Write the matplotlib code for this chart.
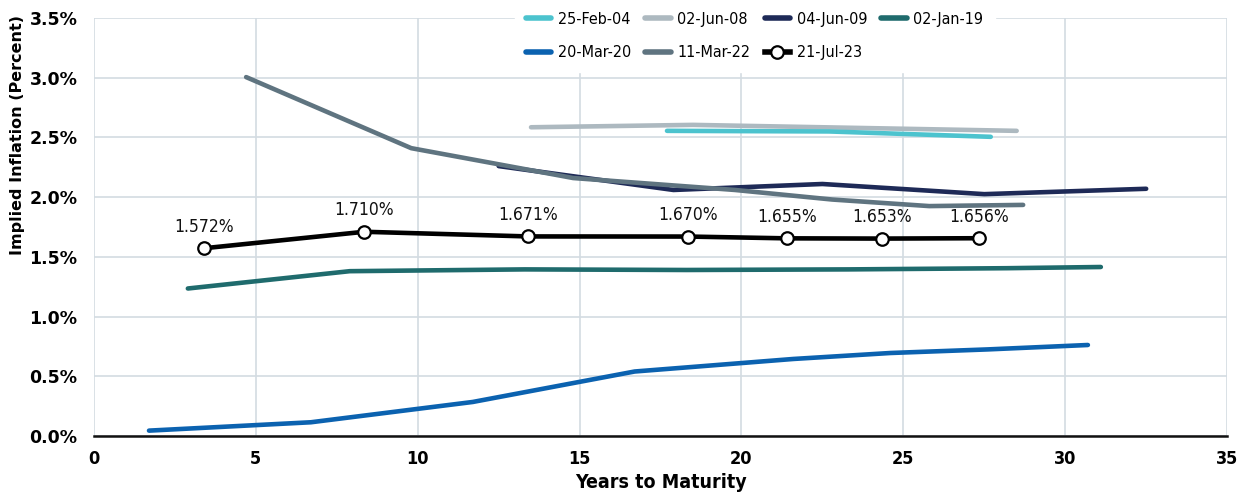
import matplotlib
matplotlib.use('Agg')
import matplotlib.pyplot as plt
from matplotlib.ticker import FuncFormatter, MultipleLocator
from matplotlib import font_manager

# --- data ---
feb04_x = [17.7, 22.7, 27.7]
feb04_y = [2.555, 2.55, 2.505]

jun08_x = [13.5, 18.5, 23.5, 28.5]
jun08_y = [2.585, 2.605, 2.58, 2.555]

jun09_x = [12.5, 17.9, 22.5, 27.5, 32.5]
jun09_y = [2.26, 2.06, 2.11, 2.025, 2.07]

jan19_x = [2.9, 7.9, 13.3, 18.3, 23.3, 28.2, 31.1]
jan19_y = [1.235, 1.38, 1.395, 1.39, 1.395, 1.405, 1.415]

mar20_x = [1.7, 6.7, 11.7, 16.7, 21.6, 24.6, 27.6, 30.7]
mar20_y = [0.045, 0.115, 0.285, 0.54, 0.645, 0.695, 0.725, 0.762]

mar22_x = [4.7, 9.8, 14.8, 19.8, 22.8, 25.8, 28.7]
mar22_y = [3.005, 2.41, 2.16, 2.06, 1.98, 1.925, 1.935]

jul23_x = [3.4, 8.35, 13.4, 18.35, 21.4, 24.35, 27.35]
jul23_y = [1.572, 1.710, 1.671, 1.670, 1.655, 1.653, 1.656]

CIAN    = '#4CC3CE'
GRISC   = '#ADB9C0'
MARINO  = '#1E2A57'
VERDE   = '#1F6B6D'
AZUL    = '#0B62B0'
PIZARRA = '#5F7480'
NEGRO   = '#000000'
REJILLA = '#D3DBE2'

# condensed face if the DejaVu extras are there
nombres = {f.name for f in font_manager.fontManager.ttflist}
ANGOSTA = 'DejaVu Sans Condensed' if 'DejaVu Sans Condensed' in nombres else 'DejaVu Sans'
ESTRECHO = 'condensed'

fig = plt.figure(figsize=(12.38, 4.94), dpi=100)
ax = fig.add_axes([0.0759, 0.1174, 0.9153, 0.8462])

lw = 3.3
ax.plot(feb04_x, feb04_y, color=CIAN, lw=lw, solid_capstyle='round', label='25-Feb-04', zorder=3)
ax.plot(jun08_x, jun08_y, color=GRISC, lw=lw, solid_capstyle='round', label='02-Jun-08', zorder=2)
ax.plot(jun09_x, jun09_y, color=MARINO, lw=lw, solid_capstyle='round', label='04-Jun-09', zorder=2)
ax.plot(jan19_x, jan19_y, color=VERDE, lw=lw, solid_capstyle='round', label='02-Jan-19', zorder=2)
ax.plot(mar20_x, mar20_y, color=AZUL, lw=lw, solid_capstyle='round', label='20-Mar-20', zorder=2)
ax.plot(mar22_x, mar22_y, color=PIZARRA, lw=lw, solid_capstyle='round', label='11-Mar-22', zorder=3)
ax.plot(jul23_x, jul23_y, color=NEGRO, lw=lw, marker='o', markersize=9,
        markerfacecolor='white', markeredgecolor=NEGRO, markeredgewidth=1.6,
        label='21-Jul-23', zorder=4)

for x, y in zip(jul23_x, jul23_y):
    ax.annotate(f'{y:.3f}%', (x, y), xytext=(0, 9), textcoords='offset points',
                ha='center', va='bottom', fontsize=12.5, color='#111111',
                family=ANGOSTA, fontstretch=ESTRECHO, zorder=5)

ax.set_xlim(0, 35)
ax.set_ylim(0, 3.5)
ax.xaxis.set_major_locator(MultipleLocator(5))
ax.yaxis.set_major_locator(MultipleLocator(0.5))
ax.yaxis.set_major_formatter(FuncFormatter(lambda v, p: f'{v:.1f}%'))

ax.grid(True, color=REJILLA, linewidth=1.2)
ax.set_axisbelow(True)
for s in ['top', 'right', 'left']:
    ax.spines[s].set_visible(False)
ax.spines['bottom'].set_color('#111111')
ax.spines['bottom'].set_linewidth(1.8)
ax.tick_params(length=0)
ax.tick_params(axis='x', pad=10)
ax.tick_params(axis='y', pad=12)

for lab in ax.get_xticklabels():
    lab.set_family(ANGOSTA)
    lab.set_fontstretch(ESTRECHO)
    lab.set_fontweight('bold')
    lab.set_fontsize(13)
for lab in ax.get_yticklabels():
    lab.set_fontweight('bold')
    lab.set_fontsize(12.5)

ax.set_xlabel('Years to Maturity', fontsize=14, fontweight='bold',
              family=ANGOSTA, fontstretch=ESTRECHO, labelpad=4)
ax.set_ylabel('Implied Inflation (Percent)', fontsize=11.5, fontweight='bold')
ax.yaxis.set_label_coords(-0.061, 0.72)

# legend filled by rows, as in the reference
h, l = ax.get_legend_handles_labels()
orden = [0, 4, 1, 5, 2, 6, 3]
leg = ax.legend([h[i] for i in orden], [l[i] for i in orden],
                loc='upper center', bbox_to_anchor=(0.583, 1.06), ncol=4,
                frameon=True, fancybox=False, framealpha=1, edgecolor='white',
                prop={'family': ANGOSTA, 'size': 11.5, 'stretch': ESTRECHO},
                handlelength=1.6, columnspacing=0.9, handletextpad=0.4,
                labelspacing=1.15, borderpad=0.7)
leg.set_zorder(10)
for ln in leg.get_lines():
    ln.set_linewidth(4)

fig.savefig('out.png', dpi=100)
